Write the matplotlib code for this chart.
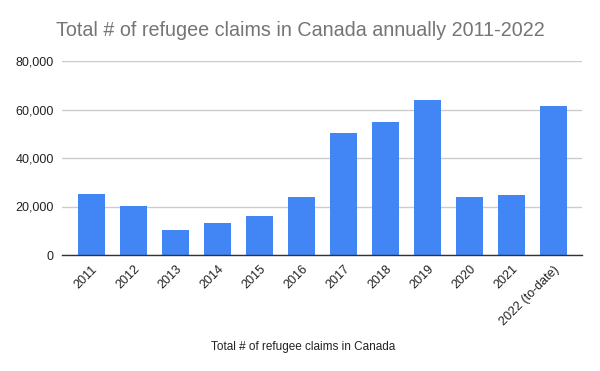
import matplotlib
matplotlib.use("Agg")
import matplotlib.pyplot as plt
from matplotlib.ticker import FuncFormatter

years = ["2011", "2012", "2013", "2014", "2015", "2016", "2017", "2018",
         "2019", "2020", "2021", "2022 (to-date)"]
claims = [25200, 20400, 10300, 13200, 16100, 23900, 50400, 54900,
          64000, 23900, 24800, 61600]
yticks = [0, 20000, 40000, 60000, 80000]

plt.rcParams['font.family'] = ['Liberation Sans', 'DejaVu Sans']

fig = plt.figure(figsize=(6, 3.71), dpi=100)
ax = fig.add_axes([62/600, 1-255/371, 520/600, 194/371])

x = range(len(years))
ax.bar(x, claims, width=0.64, color="#4285F4", zorder=3)

ax.set_ylim(0, 80000)
ax.set_xlim(-0.70, len(years) - 0.32)
ax.set_yticks(yticks)
ax.yaxis.set_major_formatter(FuncFormatter(lambda v, p: f"{int(v):,}"))
ax.grid(axis="y", color="#cccccc", linewidth=1, zorder=0)
ax.set_xticks(list(x))
ax.set_xticklabels(years, rotation=45, ha="right", rotation_mode="anchor",
                   fontsize=9, color="#222222")
ax.tick_params(axis="y", labelsize=9, colors="#222222", length=0, pad=6)
ax.tick_params(axis="x", length=0, pad=6)
for s in ["top", "right", "left"]:
    ax.spines[s].set_visible(False)
ax.spines["bottom"].set_color("#333333")
ax.spines["bottom"].set_linewidth(1)
ax.spines["bottom"].set_zorder(4)

ax.set_xlabel("Total # of refugee claims in Canada", fontsize=8.5,
              color="#222222")
ax.xaxis.set_label_coords((303 - 62) / 520, -(341 - 255) / 194)

fig.text(0.5, 1 - 31/371, "Total # of refugee claims in Canada annually 2011-2022",
         ha="center", va="center", fontsize=14.2, color="#757575")

fig.savefig("out.png", dpi=100)
